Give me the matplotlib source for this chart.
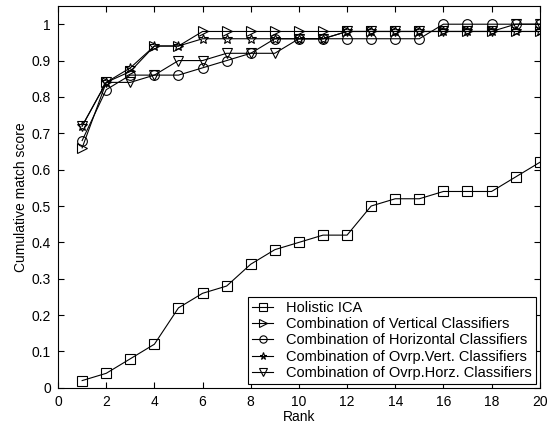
import matplotlib
matplotlib.use('Agg')
import matplotlib.pyplot as plt

plt.rcParams['font.family'] = ['Liberation Sans', 'DejaVu Sans']

rank = list(range(1, 21))

holistic_ica = [0.02, 0.04, 0.08, 0.12, 0.22, 0.26, 0.28, 0.34, 0.38, 0.40,
                0.42, 0.42, 0.50, 0.52, 0.52, 0.54, 0.54, 0.54, 0.58, 0.62]
vertical = [0.66, 0.84, 0.87, 0.94, 0.94, 0.98, 0.98, 0.98, 0.98, 0.98,
            0.98, 0.98, 0.98, 0.98, 0.98, 0.98, 0.98, 0.98, 0.98, 0.98]
horizontal = [0.68, 0.82, 0.86, 0.86, 0.86, 0.88, 0.90, 0.92, 0.96, 0.96,
              0.96, 0.96, 0.96, 0.96, 0.96, 1.00, 1.00, 1.00, 1.00, 1.00]
ovrp_vert = [0.72, 0.84, 0.88, 0.94, 0.94, 0.96, 0.96, 0.96, 0.96, 0.96,
             0.96, 0.98, 0.98, 0.98, 0.98, 0.98, 0.98, 0.98, 0.98, 0.98]
ovrp_horz = [0.72, 0.84, 0.84, 0.86, 0.90, 0.90, 0.92, 0.92, 0.92, 0.96,
             0.96, 0.98, 0.98, 0.98, 0.98, 0.98, 0.98, 0.98, 1.00, 1.00]

series = [
    (holistic_ica, 's', 'Holistic ICA'),
    (vertical, '>', 'Combination of Vertical Classifiers'),
    (horizontal, 'o', 'Combination of Horizontal Classifiers'),
    (ovrp_vert, '*', 'Combination of Ovrp.Vert. Classifiers'),
    (ovrp_horz, 'v', 'Combination of Ovrp.Horz. Classifiers'),
]

fig = plt.figure(figsize=(5.53, 4.30), dpi=100)
ax = fig.add_axes([0.105, 0.098, 0.871, 0.888])

for vals, mk, lab in series:
    ax.plot(rank, vals, color='black', linewidth=0.8, marker=mk,
            markersize=7, markerfacecolor='none', markeredgecolor='black',
            markeredgewidth=0.8, label=lab)

ax.set_xlim(0, 20)
ax.set_ylim(0, 1.05)
ax.set_xticks(range(0, 21, 2))
ax.set_yticks([i / 10 for i in range(11)])
ax.set_yticklabels(['0', '0.1', '0.2', '0.3', '0.4', '0.5', '0.6', '0.7',
                    '0.8', '0.9', '1'])
ax.tick_params(direction='in', top=True, right=True, labelsize=10,
               length=4, width=0.8, pad=5)
ax.set_xlabel('Rank', fontsize=10, labelpad=1)
ax.set_ylabel('Cumulative match score', fontsize=10, labelpad=3)

leg = ax.legend(loc='lower right', fontsize=10.5, fancybox=False,
                edgecolor='black', framealpha=1, borderaxespad=0.25,
                handlelength=1.4, handletextpad=0.9, labelspacing=0.15,
                borderpad=0.3, markerscale=0.75)
leg.get_frame().set_linewidth(0.8)

plt.savefig('out.png', dpi=100)
plt.close()
